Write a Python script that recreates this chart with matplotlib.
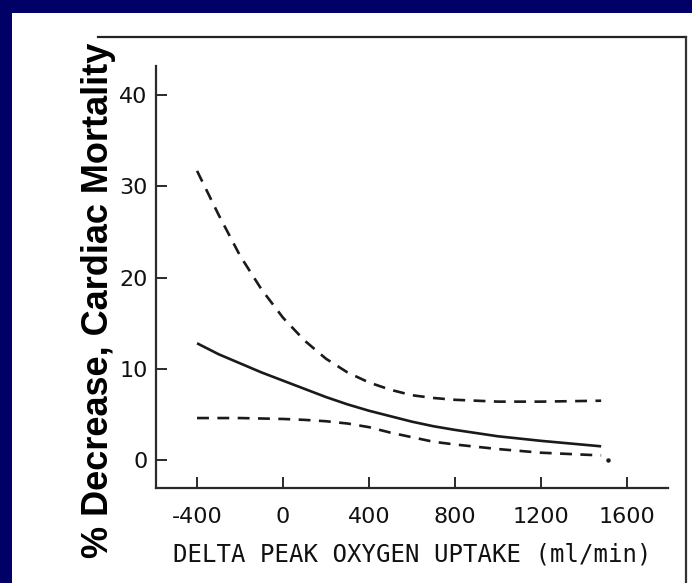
import matplotlib
matplotlib.use("Agg")
import matplotlib.pyplot as plt
from matplotlib.patches import Rectangle
from matplotlib.lines import Line2D

# Change in peak oxygen uptake (ml/min) and % decrease in cardiac mortality
x_pts = [-400, -300, -200, -100, 0, 100, 200, 300, 400, 500, 600, 700, 800, 1000, 1200, 1480]
mortality_est = [12.8, 11.6, 10.6, 9.6, 8.7, 7.8, 6.9, 6.1, 5.4, 4.8, 4.2, 3.7, 3.3, 2.6, 2.1, 1.5]
upper_ci = [31.7, 26.9, 22.4, 18.7, 15.6, 13.1, 11.1, 9.6, 8.5, 7.7, 7.1, 6.8, 6.6, 6.4, 6.4, 6.5]
lower_ci = [4.6, 4.6, 4.6, 4.55, 4.5, 4.4, 4.25, 4.0, 3.6, 3.0, 2.5, 2.0, 1.7, 1.2, 0.8, 0.5]
end_dot = (1510, 0.0)

x_ticks = [-400, 0, 400, 800, 1200, 1600]
y_ticks = [0, 10, 20, 30, 40]
x_label = "DELTA PEAK OXYGEN UPTAKE (ml/min)"
y_label = "% Decrease, Cardiac Mortality"

W, H = 692, 583
fig = plt.figure(figsize=(W / 100, H / 100), dpi=100)
fig.patch.set_facecolor("#000066")

# white slide panel
fig.add_artist(Rectangle((12 / W, 0), 1 - 12 / W, 1 - 13 / H,
                         transform=fig.transFigure, facecolor="white",
                         edgecolor="none", zorder=0))
# scanned frame lines (top and right)
fig.add_artist(Line2D([98 / W, 686 / W], [1 - 37 / H, 1 - 37 / H],
                      transform=fig.transFigure, color="#222222", lw=1.6))
fig.add_artist(Line2D([686 / W, 686 / W], [1 - 37 / H, 0],
                      transform=fig.transFigure, color="#333333", lw=1.6))

ax = fig.add_axes([156 / W, (H - 488) / H, 512 / W, 422 / H])
ax.set_facecolor("none")
ax.set_xlim(-591, 1791)
ax.set_ylim(-3.07, 43.2)

ink = "#1a1a1a"
ax.plot(x_pts, mortality_est, color=ink, lw=1.9, solid_capstyle="butt")
ax.plot(x_pts, upper_ci, color=ink, lw=1.9, dashes=(4.5, 3.2))
ax.plot(x_pts, lower_ci, color=ink, lw=1.9, dashes=(4.5, 3.2))
ax.plot([end_dot[0]], [end_dot[1]], marker="o", ms=2.2, color=ink, ls="none")

for side in ("top", "right"):
    ax.spines[side].set_visible(False)
for side in ("left", "bottom"):
    ax.spines[side].set_color("#2a2a2a")
    ax.spines[side].set_linewidth(1.6)

ax.set_xticks(x_ticks)
ax.set_yticks(y_ticks)
ax.set_xticklabels([str(v) for v in x_ticks])
ax.set_yticklabels([str(v) for v in y_ticks])
ax.tick_params(axis="both", direction="in", length=8, width=1.4, color="#2a2a2a",
               labelsize=16, labelcolor="#111111")
ax.tick_params(axis="x", pad=14)
ax.tick_params(axis="y", pad=6)
for lbl in ax.get_xticklabels() + ax.get_yticklabels():
    lbl.set_family("DejaVu Sans")

ax.set_xlabel(x_label, family="DejaVu Sans Mono", fontsize=17.3, color="#111111",
              labelpad=11)

fig.text(98 / W, 1 - 300 / H, y_label, rotation=90, ha="center", va="center",
         family="Liberation Sans", fontweight="bold", fontsize=26, color="black")

fig.savefig("out.png", dpi=100, facecolor=fig.get_facecolor())
